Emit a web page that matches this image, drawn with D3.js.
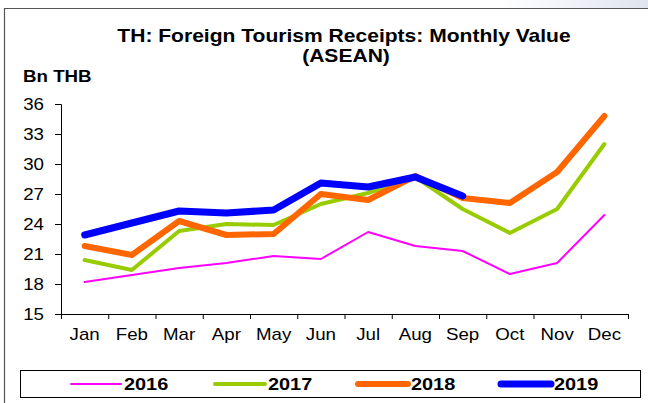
<!DOCTYPE html>
<html>
<head>
<meta charset="utf-8">
<script src="https://cdn.jsdelivr.net/npm/d3@7"></script>
<style>
  body { margin: 0; background: #fff; }
  text { font-family: "Liberation Sans", Arial, sans-serif; }
</style>
</head>
<body>
<div id="chart"></div>
<script>
// data
var months = ["Jan", "Feb", "Mar", "Apr", "May", "Jun", "Jul", "Aug", "Sep", "Oct", "Nov", "Dec"];
var years = ["2016", "2017", "2018", "2019"];
var v2016 = [18.2, 18.9, 19.6, 20.1, 20.8, 20.5, 23.2, 21.8, 21.3, 19.0, 20.1, 24.9];
var v2017 = [20.4, 19.4, 23.3, 24.0, 23.9, 26.0, 27.1, 28.7, 25.5, 23.1, 25.5, 32.0];
var v2018 = [21.8, 20.9, 24.3, 22.9, 23.0, 27.0, 26.4, 28.8, 26.6, 26.1, 29.2, 34.8];
var v2019 = [22.9, 24.1, 25.3, 25.1, 25.4, 28.1, 27.7, 28.7, 26.8];
var yTicks = [15, 18, 21, 24, 27, 30, 33, 36];

var seriesValues = [v2016, v2017, v2018, v2019];
var colors = ["#ff00ff", "#99cc00", "#ff6600", "#0000ff"];
var widths = [2, 4, 6, 7];

var svgWidth = 648;
var svgHeight = 403;
var sx = 1.17; // the reference text is stretched sideways

var margin = { top: 104, right: 20, bottom: 89, left: 61 };
var width = 628 - margin.left;
var height = 314 - margin.top;

var svg = d3.select("#chart")
  .append("svg")
  .attr("width", svgWidth)
  .attr("height", svgHeight);

// faint background gradient at the top right
var defs = svg.append("defs");
var grad = defs.append("linearGradient").attr("id", "fade")
  .attr("x1", "0%").attr("x2", "100%");
grad.append("stop").attr("offset", "0%").attr("stop-color", "#ffffff");
grad.append("stop").attr("offset", "100%").attr("stop-color", "#dfe4ee");
svg.append("rect")
  .attr("x", 500).attr("y", 0).attr("width", 148).attr("height", 8)
  .attr("fill", "url(#fade)");

// frame
svg.append("path")
  .attr("d", "M4.5,403 V8.5 H648")
  .attr("fill", "none")
  .attr("stroke", "#555")
  .attr("stroke-width", 1.2);

// titles
function stretchedText(g, x, y, str, size, weight, anchor) {
  return g.append("text")
    .attr("transform", `translate(${x},${y}) scale(${sx},1)`)
    .attr("text-anchor", anchor || "middle")
    .attr("font-size", size)
    .attr("font-weight", weight || "normal")
    .attr("fill", "#000")
    .text(str);
}

stretchedText(svg, 344, 42, "TH: Foreign Tourism Receipts: Monthly Value", "18px", "bold");
stretchedText(svg, 346, 62, "(ASEAN)", "18px", "bold");
stretchedText(svg, 23, 82, "Bn THB", "16px", "bold", "start");

var chartGroup = svg.append("g")
  .attr("transform", `translate(${margin.left}, ${margin.top})`);

// scales
var xBand = d3.scaleBand().domain(months).range([0, width]);
var xIndex = d3.scaleLinear().domain([0, months.length]).range([0, width]);
var yLinearScale = d3.scaleLinear().domain([15, 36]).range([height, 0]);

// y axis
var leftAxis = d3.axisLeft(yLinearScale).tickValues(yTicks).tickSize(6).tickPadding(0);
var yAxis = chartGroup.append("g").call(leftAxis);
yAxis.select(".domain").attr("stroke", "#000");
yAxis.selectAll("text")
  .attr("x", 0)
  .attr("dy", "0.36em")
  .attr("transform", `translate(-17,0) scale(${sx},1)`)
  .attr("font-size", "16px")
  .attr("font-family", "'Liberation Sans', Arial, sans-serif")
  .attr("fill", "#000");

// x axis tick marks on the band edges
var tickAxis = d3.axisBottom(xIndex).tickValues(d3.range(months.length + 1))
  .tickFormat("").tickSize(5).tickSizeOuter(0);
chartGroup.append("g")
  .attr("transform", `translate(0, ${height})`)
  .call(tickAxis);

// x axis labels in the band centres
var labelAxis = d3.axisBottom(xBand).tickSize(0).tickPadding(0);
var xLabels = chartGroup.append("g")
  .attr("transform", `translate(0, ${height})`)
  .call(labelAxis);
xLabels.select(".domain").remove();
xLabels.selectAll("text")
  .attr("y", 0)
  .attr("dy", 0)
  .attr("transform", `translate(0,26) scale(${sx},1)`)
  .attr("font-size", "16px")
  .attr("font-family", "'Liberation Sans', Arial, sans-serif")
  .attr("fill", "#000");

// lines
var line = d3.line()
  .x((d, i) => xBand(months[i]) + xBand.bandwidth() / 2)
  .y(d => yLinearScale(d));

seriesValues.forEach(function(vals, i) {
  chartGroup.append("path")
    .datum(vals)
    .attr("d", line)
    .attr("fill", "none")
    .attr("stroke", colors[i])
    .attr("stroke-width", widths[i])
    .attr("stroke-linejoin", "round")
    .attr("stroke-linecap", "round");
});

// legend
var legend = svg.append("g");
legend.append("rect")
  .attr("x", 20.5).attr("y", 370.5)
  .attr("width", 620).attr("height", 27)
  .attr("fill", "#fff")
  .attr("stroke", "#000")
  .attr("stroke-width", 1);

var legendX = [71, 215, 358, 501];
years.forEach(function(yr, i) {
  legend.append("line")
    .attr("x1", legendX[i]).attr("x2", legendX[i] + 50)
    .attr("y1", 384).attr("y2", 384)
    .attr("stroke", colors[i])
    .attr("stroke-width", widths[i])
    .attr("stroke-linecap", "round");
  stretchedText(legend, legendX[i] + 53, 390, yr, "17px", "bold", "start");
});
</script>
</body>
</html>
